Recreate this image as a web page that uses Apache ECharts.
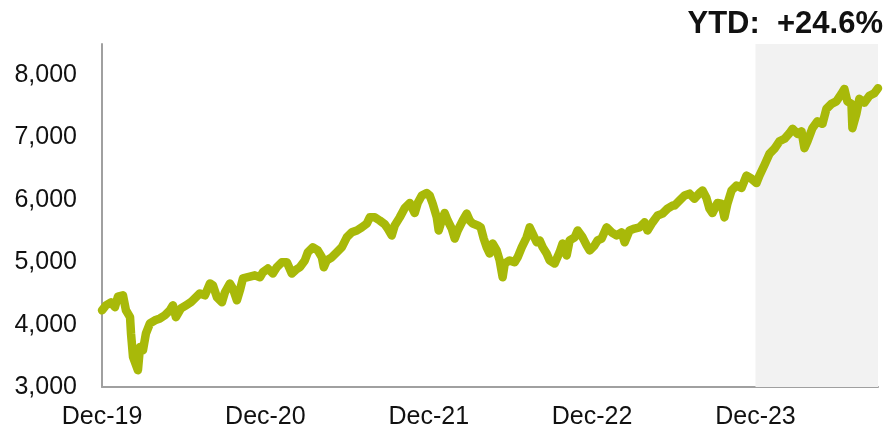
<!DOCTYPE html>
<html>
<head>
<meta charset="utf-8">
<script src="https://cdn.jsdelivr.net/npm/echarts@6/dist/echarts.min.js"></script>
<style>
html,body{margin:0;padding:0;background:#fff;}
#chart{width:890px;height:430px;}
</style>
</head>
<body>
<div id="chart"></div>
<script>
// Months since end of Dec-2019
const months = [0,0.29,0.66,0.95,1.17,1.54,1.76,2.06,2.13,2.28,2.64,2.79,3.01,3.23,3.52,3.89,4.26,4.62,4.99,5.21,5.43,5.80,6.17,6.53,6.90,
7.19,7.56,7.93,8.15,8.44,8.81,9.03,9.39,9.61,9.91,10.13,10.35,10.72,11.23,11.60,11.82,12.18,12.55,12.84,13.21,13.58,13.94,14.24,
14.53,14.90,15.12,15.49,15.85,16.15,16.29,16.51,16.88,17.25,17.61,17.98,18.35,18.72,19.08,19.45,19.67,20.04,20.40,20.77,20.99,
21.28,21.50,21.87,22.24,22.61,22.97,23.19,23.49,23.85,24.07,24.29,24.59,24.73,24.95,25.17,25.39,25.69,25.91,26.13,26.50,26.79,
27.01,27.23,27.60,27.82,28.04,28.26,28.48,28.70,28.99,29.21,29.43,29.58,29.94,30.31,30.53,30.83,31.19,31.41,31.63,31.93,32.15,
32.37,32.66,32.88,33.25,33.61,33.83,34.13,34.35,34.72,34.94,35.30,35.60,35.82,36.18,36.40,36.70,37.06,37.43,37.80,38.17,38.39,
38.75,39.12,39.49,39.85,40.07,40.44,40.81,41.17,41.54,41.91,42.06,42.42,42.79,43.16,43.52,43.89,44.11,44.40,44.62,44.84,45.21,
45.50,45.72,45.94,46.24,46.61,46.97,47.34,47.71,48.07,48.29,48.66,49.03,49.39,49.76,50.13,50.50,50.72,51.08,51.38,51.60,51.82,
52.18,52.55,52.92,53.21,53.58,53.94,54.31,54.53,54.75,55.05,55.12,55.41,55.63,56.00,56.37,56.73,57.00];
const values = [4230,4310,4357,4280,4450,4470,4230,4120,3860,3480,3270,3640,3590,3860,4020,4070,4100,4150,4230,4310,4120,4260,4310,4360,4440,
4500,4470,4660,4630,4440,4360,4520,4660,4580,4390,4550,4740,4760,4790,4760,4840,4900,4820,4920,5000,5000,4820,4880,
4920,5030,5160,5240,5190,5080,4920,5030,5080,5160,5240,5400,5480,5510,5560,5620,5720,5720,5670,5610,5540,
5430,5590,5720,5870,5950,5790,5950,6070,6110,6070,5940,5720,5510,5670,5790,5670,5540,5380,5510,5670,5780,
5670,5620,5590,5560,5380,5240,5140,5300,5190,5030,4760,4980,5030,5000,5080,5240,5400,5560,5460,5320,5350,
5240,5140,5030,4980,5160,5300,5110,5350,5400,5510,5400,5270,5190,5270,5350,5380,5560,5480,5430,5480,5320,
5510,5540,5560,5640,5510,5640,5750,5780,5860,5910,5910,5990,6070,6100,6020,6110,6150,6030,5860,5790,5950,
5940,5720,5940,6150,6230,6190,6390,6340,6270,6390,6560,6740,6820,6940,6980,7070,7140,7060,7100,6830,6940,
7150,7260,7220,7460,7540,7580,7700,7780,7580,7540,7150,7380,7620,7560,7670,7710,7790];
const xTickLabels = ['Dec-19','Dec-20','Dec-21','Dec-22','Dec-23'];
const ytdStart = 48;
const ytdEnd = 57;
const ytdText = 'YTD:  +24.6%';

const chart = echarts.init(document.getElementById('chart'), null, {renderer:'canvas'});
const font = 'Liberation Sans, Arial, sans-serif';
chart.setOption({
  animation:false,
  backgroundColor:'#ffffff',
  title:{
    text: ytdText, right: 2, top: 4,
    textStyle:{fontFamily:font, fontSize:31, fontWeight:'bold', color:'#111'}
  },
  grid:{left:102, right:12, top:44, bottom:43, containLabel:false},
  xAxis:{
    type:'value', min:0, max:57, interval:12,
    axisLine:{show:true, lineStyle:{color:'#a0a0a0', width:2}},
    axisTick:{show:false},
    splitLine:{show:false},
    axisLabel:{
      fontFamily:font, fontSize:25, color:'#111', margin:18,
      showMaxLabel:false,
      formatter: v => (v % 12 === 0 && xTickLabels[v/12]) ? xTickLabels[v/12] : ''
    }
  },
  yAxis:{
    type:'value', min:3000, max:8500, interval:1000,
    axisLine:{show:true, lineStyle:{color:'#a0a0a0', width:2}},
    axisTick:{show:false},
    splitLine:{show:false},
    axisLabel:{
      fontFamily:font, fontSize:25, color:'#111', margin:25,
      showMaxLabel:false,
      formatter: v => v > 8000 ? '' : v.toLocaleString('en-US')
    }
  },
  series:[{
    type:'line',
    data: months.map((m,i)=>[m, values[i]]),
    showSymbol:false,
    clip:false,
    lineStyle:{color:'#a8b909', width:8.5, cap:'round', join:'round'},
    markArea:{
      silent:true,
      itemStyle:{color:'#f2f2f2'},
      data:[[{xAxis:ytdStart},{xAxis:ytdEnd}]]
    }
  }]
});
</script>
</body>
</html>
